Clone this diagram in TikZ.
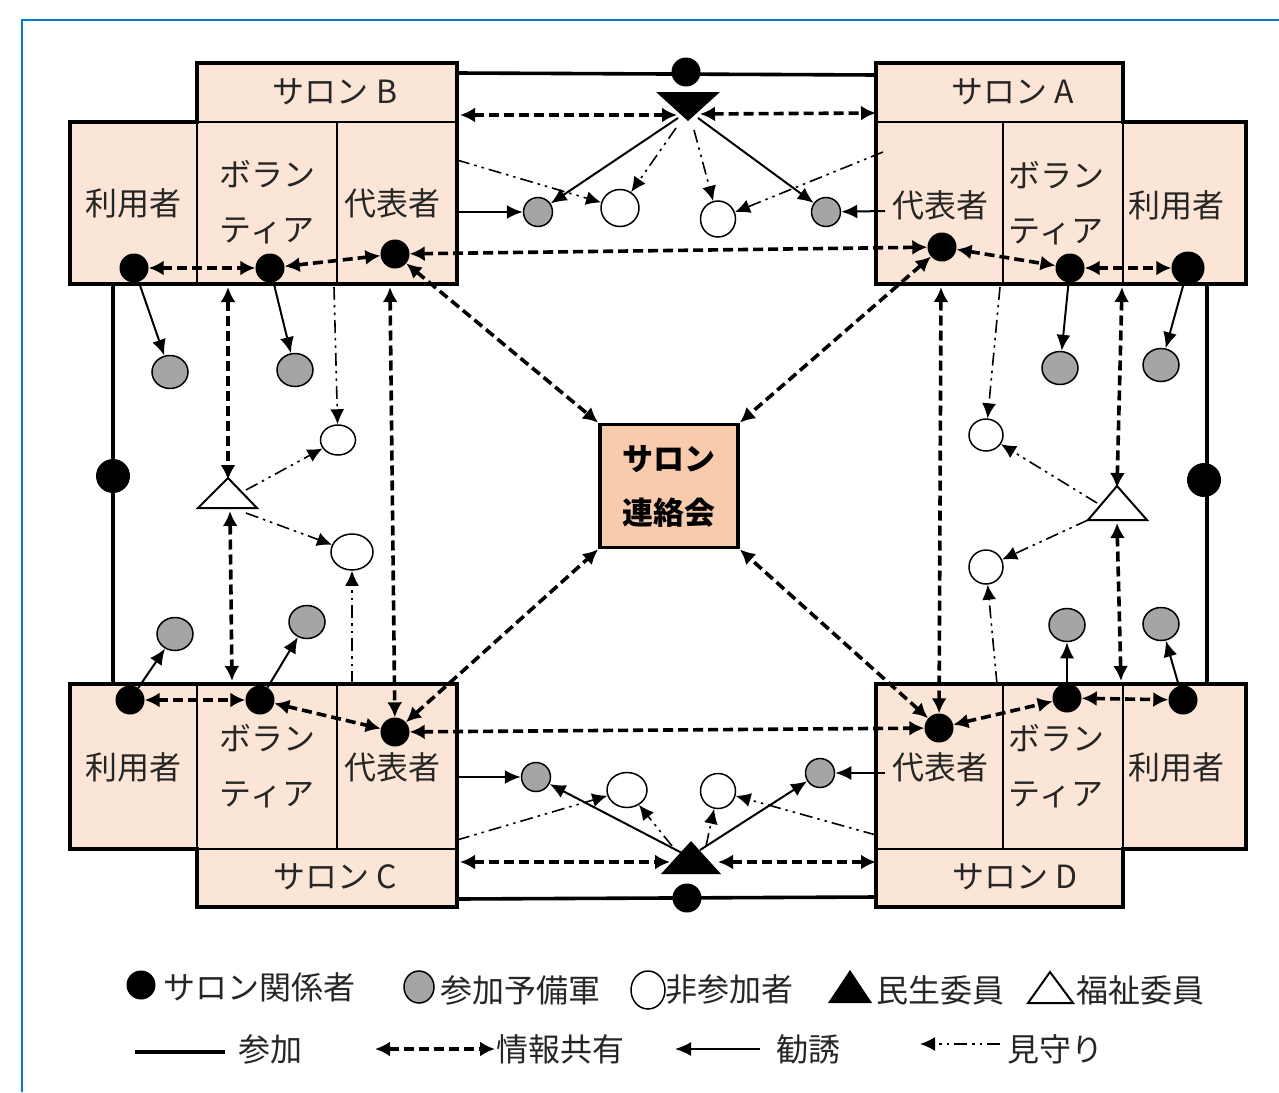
\documentclass[tikz,border=0pt]{standalone}
\usepackage{fontspec}
\setmainfont{Noto Sans CJK JP}
\usetikzlibrary{arrows.meta,shapes.geometric}
\definecolor{blk}{HTML}{FBE5D6}
\definecolor{hubc}{HTML}{F8CBAD}
\definecolor{frameblue}{HTML}{0078D4}
\definecolor{txt}{HTML}{262626}
\definecolor{gdotc}{HTML}{A5A5A5}
\begin{document}
\begin{tikzpicture}[x=1pt,y=-1pt,
  info/.style={line width=3.6pt, dash pattern=on 10pt off 5pt, {Latex[length=15pt,width=15pt]}-{Latex[length=15pt,width=15pt]}},
  invite/.style={line width=2pt, -{Latex[length=16pt,width=14pt]}},
  watch/.style={line width=1.6pt, dash pattern=on 13pt off 5pt on 2.5pt off 5pt on 2.5pt off 5pt, -{Latex[length=15pt,width=14pt]}},
  part/.style={line width=3.6pt},
  sdot/.style={circle, fill=black, inner sep=0pt, minimum size=29pt},
  gdot/.style={ellipse, draw, line width=1.5pt, fill=gdotc, inner sep=0pt, minimum width=36pt, minimum height=33pt},
  wdot/.style={ellipse, draw, line width=1.5pt, fill=white, inner sep=0pt, minimum width=35pt, minimum height=31pt},
  lbl/.style={text=txt, font=\fontsize{32}{55}\selectfont, align=center, inner sep=0pt},
  lgt/.style={text=txt, font=\fontsize{32}{36}\selectfont, inner sep=0pt, anchor=west},
  outline/.style={line width=3.8pt},
  thin/.style={line width=1.2pt},
]
\useasboundingbox (0,0) rectangle (1279,1092);
\draw[frameblue, line width=1.8pt] (22,1092) -- (22,20) -- (1279,20);

% ---------- blocks ----------
\filldraw[fill=blk, outline] (70,122) -- (197,122) -- (197,63) -- (457,63) -- (457,284) -- (70,284) -- cycle;
\draw[thin] (197,122) -- (457,122) (197,122) -- (197,284) (337,122) -- (337,284);
\filldraw[fill=blk, outline] (876,63) -- (1123,63) -- (1123,122) -- (1246,122) -- (1246,284) -- (876,284) -- cycle;
\draw[thin] (876,122) -- (1123,122) (1003,122) -- (1003,284) (1123,122) -- (1123,284);
\filldraw[fill=blk, outline] (70,684) -- (457,684) -- (457,907) -- (197,907) -- (197,849) -- (70,849) -- cycle;
\draw[thin] (197,849) -- (457,849) (197,684) -- (197,849) (337,684) -- (337,849);
\filldraw[fill=blk, outline] (876,684) -- (1246,684) -- (1246,849) -- (1123,849) -- (1123,907) -- (876,907) -- cycle;
\draw[thin] (876,849) -- (1123,849) (1003,684) -- (1003,849) (1123,684) -- (1123,849);

% labels
\node[lbl] (bT) at (335,92) {サロン B};
\node[lbl] (bUt) at (133,203) {利用者};
\node[lbl] (bVt) at (267,202) {ボラン\\ティア};
\node[lbl] (bRt) at (392,203) {代表者};
\node[lbl] (aT) at (1013,92) {サロン A};
\node[lbl] (aRt) at (940,205) {代表者};
\node[lbl] (aVt) at (1056,203) {ボラン\\ティア};
\node[lbl] (aUt) at (1176,205) {利用者};
\node[lbl] (cT) at (335,877) {サロン C};
\node[lbl] (cUt) at (133,767) {利用者};
\node[lbl] (cVt) at (267,766) {ボラン\\ティア};
\node[lbl] (cRt) at (392,767) {代表者};
\node[lbl] (dT) at (1015,877) {サロン D};
\node[lbl] (dRt) at (940,767) {代表者};
\node[lbl] (dVt) at (1056,766) {ボラン\\ティア};
\node[lbl] (dUt) at (1176,767) {利用者};

% hub
\node[draw, outline, fill=hubc, minimum width=138pt, minimum height=123pt, inner sep=0pt,
      text=black, font=\bfseries\fontsize{31}{54}\selectfont, align=center] (hub) at (669,486) {サロン\\連絡会};

% ---------- member dots ----------
\node[sdot] (bU) at (134,268) {};
\node[sdot] (bV) at (270,268) {};
\node[sdot] (bR) at (395,254) {};
\node[sdot] (aR) at (942,247) {};
\node[sdot] (aV) at (1070,268) {};
\node[sdot, minimum width=33pt] (aU) at (1188,268) {};
\node[sdot] (cU) at (130,700) {};
\node[sdot] (cV) at (260,700) {};
\node[sdot] (cR) at (395,732) {};
\node[sdot] (dR) at (939,728) {};
\node[sdot] (dV) at (1067,698) {};
\node[sdot] (dU) at (1183,700) {};

% gray and white circles
\node[gdot, minimum width=29pt, minimum height=29pt] (gB1) at (538,212) {};
\node[gdot, minimum width=29pt, minimum height=29pt] (gA1) at (826,212) {};
\node[wdot, minimum width=38pt, minimum height=37pt] (wB1) at (620,208) {};
\node[wdot, minimum width=35pt, minimum height=36pt] (wA1) at (718,219) {};
\node[gdot, minimum width=29pt, minimum height=29pt] (gC1) at (536,777) {};
\node[gdot, minimum width=29pt, minimum height=29pt] (gD1) at (820,773) {};
\node[wdot, minimum width=40pt, minimum height=35pt] (wC1) at (627,790) {};
\node[wdot, minimum width=35pt, minimum height=35pt] (wD1) at (718,791) {};

\node[gdot] (gL1) at (170,372) {};
\node[gdot] (gL2) at (295,370) {};
\node[gdot] (gL3) at (175,634) {};
\node[gdot] (gL4) at (307,622) {};
\node[wdot, minimum width=35pt, minimum height=30pt] (wL1) at (338,440) {};
\node[wdot, minimum width=42pt, minimum height=36pt] (wL2) at (352,552) {};
\node[gdot] (gR1) at (1060,368) {};
\node[gdot] (gR2) at (1161,365) {};
\node[gdot] (gR3) at (1067,625) {};
\node[gdot] (gR4) at (1161,624) {};
\node[wdot, minimum width=34pt, minimum height=32pt] (wR1) at (986,435) {};
\node[wdot, minimum width=34pt, minimum height=34pt] (wR2) at (986,567) {};

% ---------- frame lines (participation) ----------
\coordinate (topL) at (457,73); \coordinate (topR) at (876,75);
\coordinate (botL) at (457,899); \coordinate (botR) at (876,897);
\coordinate (lfT) at (113,284); \coordinate (lfB) at (113,684);
\coordinate (rtT) at (1207,284); \coordinate (rtB) at (1207,684);
\draw[part] (topL) -- (topR);
\draw[part] (botL) -- (botR);
\draw[part] (lfT) -- (lfB);
\draw[part] (rtT) -- (rtB);
\node[sdot] (topDot) at (686,72) {};
\node[sdot] (botDot) at (687,898) {};
\node[sdot, minimum width=30pt, minimum height=34pt] (lfDot) at (113,476) {};
\node[sdot, minimum width=30pt, minimum height=34pt] (rtDot) at (1204,480) {};

% ---------- triangles ----------
\fill (656,92) -- (720,92) -- (688,121) -- cycle;
\coordinate (t1) at (688,100);
\fill (661,874) -- (721,874) -- (691,841) -- cycle;
\coordinate (t2) at (691,862);
\draw[line width=2pt, fill=white] (198,508) -- (257,508) -- (228,478) -- cycle;
\coordinate (tL) at (228,497);
\draw[line width=2pt, fill=white] (1088,520) -- (1147,520) -- (1117,486) -- cycle;
\coordinate (tR) at (1117,508);

% ---------- information sharing ----------
\draw[info] (bU) -- (bV);
\draw[info] (bV) -- (bR);
\draw[info] (aR) -- (aV);
\draw[info] (aV) -- (aU);
\draw[info] (cU) -- (cV);
\draw[info] (cV) -- (cR);
\draw[info] (dR) -- (dV);
\draw[info] (dV) -- (dU);
\draw[info] (bR) -- (aR);
\draw[info] (cR) -- (dR);
\draw[info] (bR) -- (hub.north west);
\draw[info] (aR) -- (hub.north east);
\draw[info] (cR) -- (hub.south west);
\draw[info] (dR) -- (hub.south east);
\coordinate (bRb) at (390,287); \draw[info] (bRb) -- (cR);
\coordinate (aRb) at (941,287); \draw[info] (aRb) -- (dR);
\coordinate (bTr) at (460,115); \coordinate (t1l) at (677,115);
\coordinate (t1r) at (700,114); \coordinate (aTl) at (876,113);
\draw[info] (bTr) -- (t1l);
\draw[info] (t1r) -- (aTl);
\coordinate (cTr) at (460,862); \coordinate (t2l) at (670,862);
\coordinate (t2r) at (718,862); \coordinate (dTl) at (876,862);
\draw[info] (cTr) -- (t2l);
\draw[info] (t2r) -- (dTl);
\coordinate (bVb) at (228,287); \coordinate (tLtop) at (228,480);
\coordinate (tLbot) at (230,511); \coordinate (cVt) at (232,681);
\draw[info] (bVb) -- (tLtop);
\draw[info] (tLbot) -- (cVt);
\coordinate (aVb) at (1122,287); \coordinate (tRtop) at (1117,488);
\coordinate (tRbot) at (1117,523); \coordinate (dVt) at (1121,681);
\draw[info] (aVb) -- (tRtop);
\draw[info] (tRbot) -- (dVt);

% ---------- invitation ----------
\draw[invite] (bU) -- (gL1);
\draw[invite] (bV) -- (gL2);
\draw[invite] (cU) -- (gL3);
\draw[invite] (cV) -- (gL4);
\draw[invite] (aV) -- (gR1);
\draw[invite] (aU) -- (gR2);
\draw[invite] (dV) -- (gR3);
\draw[invite] (dU) -- (gR4);
\coordinate (t1a) at (678,118); \coordinate (t1b) at (698,118);
\draw[invite] (t1a) -- (gB1);
\draw[invite] (t1b) -- (gA1);
\coordinate (bEj) at (457,212); \coordinate (aEj) at (885,211);
\draw[invite] (bEj) -- (gB1);
\draw[invite] (aEj) -- (gA1);
\coordinate (t2a) at (682,853); \coordinate (t2b) at (700,850);
\draw[invite] (t2a) -- (gC1);
\draw[invite] (t2b) -- (gD1);
\coordinate (cEj) at (457,777); \coordinate (dEj) at (885,773);
\draw[invite] (cEj) -- (gC1);
\draw[invite] (dEj) -- (gD1);

% ---------- watching ----------
\coordinate (t1c) at (676,128); \coordinate (t1d) at (694,130);
\draw[watch] (t1c) -- (wB1);
\draw[watch] (t1d) -- (wA1);
\coordinate (bEw) at (457,160); \coordinate (aEw) at (883,152);
\draw[watch] (bEw) -- (wB1);
\draw[watch] (aEw) -- (wA1);
\coordinate (t2c) at (672,846); \coordinate (t2d) at (706,846);
\draw[watch] (t2c) -- (wC1);
\draw[watch] (t2d) -- (wD1);
\coordinate (cEw) at (457,840); \coordinate (dEw) at (876,835);
\draw[watch] (cEw) -- (wC1);
\draw[watch] (dEw) -- (wD1);
\coordinate (bRw) at (334,287); \coordinate (cRw) at (352,684);
\draw[watch] (bRw) -- (wL1);
\draw[watch] (cRw) -- (wL2);
\coordinate (tLa) at (246,490); \coordinate (tLb) at (246,513);
\draw[watch] (tLa) -- (wL1);
\draw[watch] (tLb) -- (wL2);
\coordinate (aRw) at (1000,287); \coordinate (dRw) at (997,684);
\draw[watch] (aRw) -- (wR1);
\draw[watch] (dRw) -- (wR2);
\coordinate (tRa) at (1097,503); \coordinate (tRb) at (1088,520);
\draw[watch] (tRa) -- (wR1);
\draw[watch] (tRb) -- (wR2);

% ---------- legend ----------
\node[sdot] (lg1) at (141,985) {};
\node[lgt] (lg1t) at (163,987) {サロン関係者};
\node[gdot, minimum width=30pt, minimum height=32pt] (lg2) at (419,987) {};
\node[lgt] (lg2t) at (440,990) {参加予備軍};
\node[wdot, minimum width=34pt, minimum height=38pt] (lg3) at (648,990) {};
\node[lgt] (lg3t) at (665,990) {非参加者};
\fill (828,1003) -- (872,1003) -- (850,970) -- cycle;
\node[lgt] (lg4t) at (876,990) {民生委員};
\draw[line width=2pt] (1028,1003) -- (1073,1003) -- (1050,972) -- cycle;
\node[lgt] (lg5t) at (1076,990) {福祉委員};
\coordinate (l1a) at (135,1052); \coordinate (l1b) at (225,1052);
\draw[part] (l1a) -- (l1b);
\node[lgt] (l1t) at (238,1049) {参加};
\coordinate (l2a) at (375,1049); \coordinate (l2b) at (495,1049);
\draw[info] (l2a) -- (l2b);
\node[lgt] (l2t) at (496,1049) {情報共有};
\coordinate (l3a) at (760,1049); \coordinate (l3b) at (675,1049);
\draw[invite] (l3a) -- (l3b);
\node[lgt] (l3t) at (776,1049) {勧誘};
\coordinate (l4a) at (1000,1044); \coordinate (l4b) at (920,1044);
\draw[watch] (l4a) -- (l4b);
\node[lgt] (l4t) at (1007,1049) {見守り};
\end{tikzpicture}
\end{document}
